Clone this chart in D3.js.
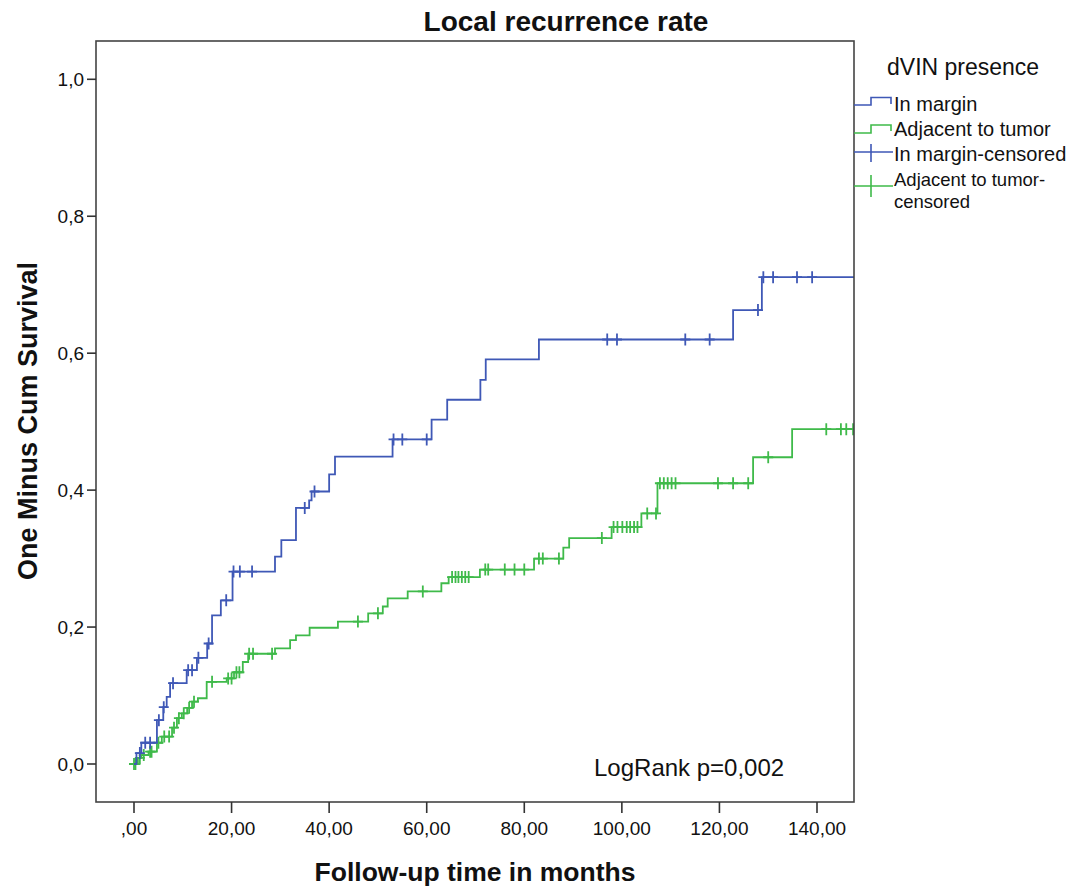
<!DOCTYPE html>
<html><head><meta charset="utf-8">
<script src="https://cdn.jsdelivr.net/npm/d3@7"></script>
<style>body{margin:0;background:#fff}svg{display:block}text{font-family:"Liberation Sans",Arial,sans-serif;fill:#111}</style>
</head><body>
<svg id="c" width="1079" height="887"></svg>
<script>
const xTicks = [0,20,40,60,80,100,120,140];
const xTickLabels = [",00","20,00","40,00","60,00","80,00","100,00","120,00","140,00"];
const yTicks = [0,0.2,0.4,0.6,0.8,1.0];
const yTickLabels = ["0,0","0,2","0,4","0,6","0,8","1,0"];

const seriesNames = ["In margin","Adjacent to tumor"];
const legendLabels = ["In margin","Adjacent to tumor","In margin-censored",["Adjacent to tumor-","censored"]];
const colors = ["#3f58b6","#3fba4a"];

const blueTimes  = [0,0.5,1.5,4.7,6.0,6.7,7.4,10.8,12.9,15.0,16.0,17.8,20.2,28.9,30.2,33.2,35.9,36.4,40.0,41.2,53.0,61.0,64.2,71.0,72.1,83.0,122.8,128.7];
const blueValues = [0,0.016,0.031,0.064,0.083,0.098,0.118,0.137,0.155,0.176,0.217,0.239,0.281,0.303,0.327,0.374,0.385,0.398,0.423,0.449,0.474,0.503,0.532,0.561,0.591,0.620,0.663,0.711];
const blueCensored = [1.2,2.3,3.3,5.1,6.1,8.0,11.1,11.9,13.2,15.3,18.9,20.4,21.7,24.2,35.0,37.0,53.2,55.0,60.0,97.0,99.0,113.0,118.0,127.9,129.0,131.0,135.9,139.0];

const greenTimes  = [0,0.8,1.5,3.0,4.7,5.7,7.8,8.8,9.8,10.9,11.9,13.1,14.9,19.0,20.5,22.3,23.4,28.9,32.0,33.2,36.0,41.8,48.0,51.0,52.0,56.1,63.0,64.5,70.9,82.0,88.0,89.2,97.9,104.0,107.3,126.9,134.9];
const greenValues = [0,0.009,0.013,0.018,0.031,0.040,0.053,0.067,0.074,0.082,0.091,0.096,0.120,0.125,0.134,0.149,0.161,0.169,0.181,0.188,0.199,0.208,0.220,0.230,0.242,0.252,0.264,0.273,0.284,0.300,0.316,0.330,0.346,0.366,0.410,0.448,0.489];
const greenCensored = [0,0.3,1.2,2.0,3.3,3.6,5.0,6.2,7.2,8.2,9.2,10.2,11.3,12.3,16.0,19.3,20.0,21.0,21.6,23.6,24.4,28.3,45.9,50.0,59.2,65.2,65.9,66.5,67.2,67.9,68.6,72.0,72.6,76.0,78.0,80.0,83.0,83.8,87.1,95.9,98.3,99.1,100.1,101.0,101.7,102.5,103.2,105.2,107.0,107.8,108.6,109.4,110.2,111.0,119.7,122.8,125.9,130.0,141.9,144.9,146.0,147.4];

const xMax = 147.6;

const svg = d3.select("#c");
const L = 96, R = 854, T = 41, B = 802;
const x = d3.scaleLinear().domain([0,140]).range([134,817]);
const y = d3.scaleLinear().domain([0,1]).range([764,79.3]);

// title
svg.append("text").attr("x",566).attr("y",31).attr("text-anchor","middle")
  .style("font-size","28px").style("font-weight","bold").text("Local recurrence rate");

// clip
svg.append("defs").append("clipPath").attr("id","clip").append("rect")
  .attr("x",L).attr("y",T).attr("width",R-L).attr("height",B-T);

const series = [
  {t:blueTimes, v:blueValues, c:blueCensored, color:colors[0]},
  {t:greenTimes, v:greenValues, c:greenCensored, color:colors[1]}
];
const g = svg.append("g").attr("clip-path","url(#clip)");
function valAt(s,t){ let v=s.v[0]; for(let i=0;i<s.t.length;i++){ if(s.t[i]<=t) v=s.v[i]; } return v; }
const line = d3.line().x(d=>x(d[0])).y(d=>y(d[1])).curve(d3.curveStepAfter);
[1,0].forEach(i=>{
  const s = series[i];
  const pts = s.t.map((t,k)=>[t,s.v[k]]);
  pts.push([xMax, s.v[s.v.length-1]]);
  g.append("path").attr("d",line(pts)).attr("fill","none").attr("stroke",s.color).attr("stroke-width",1.8);
  s.c.forEach(t=>{
    const cx = x(t), cy = y(valAt(s,t));
    g.append("path").attr("d",`M${cx-5},${cy}H${cx+5}M${cx},${cy-6}V${cy+6}`)
      .attr("stroke",s.color).attr("stroke-width",1.8).attr("fill","none");
  });
});

// box
svg.append("rect").attr("x",L).attr("y",T).attr("width",R-L).attr("height",B-T)
  .attr("fill","none").attr("stroke","#444").attr("stroke-width",1.6);

// y axis ticks
yTicks.forEach((v,i)=>{
  svg.append("line").attr("x1",87).attr("x2",L).attr("y1",y(v)).attr("y2",y(v)).attr("stroke","#333").attr("stroke-width",1.6);
  svg.append("text").attr("x",84).attr("y",y(v)+7).attr("text-anchor","end").style("font-size","19px").text(yTickLabels[i]);
});
// x axis ticks
xTicks.forEach((v,i)=>{
  svg.append("line").attr("x1",x(v)).attr("x2",x(v)).attr("y1",B).attr("y2",813).attr("stroke","#333").attr("stroke-width",1.6);
  svg.append("text").attr("x",x(v)).attr("y",835).attr("text-anchor","middle").style("font-size","19px").text(xTickLabels[i]);
});

// axis titles
svg.append("text").attr("transform","translate(37,421) rotate(-90)").attr("text-anchor","middle")
  .style("font-size","27px").style("font-weight","bold").text("One Minus Cum Survival");
svg.append("text").attr("x",475).attr("y",881).attr("text-anchor","middle")
  .style("font-size","26.5px").style("font-weight","bold").text("Follow-up time in months");

// logrank
svg.append("text").attr("x",594).attr("y",776).style("font-size","24px").text("LogRank p=0,002");

// legend
svg.append("text").attr("x",887).attr("y",75).style("font-size","23px").text("dVIN presence");
const lg = svg.append("g");
lg.append("path").attr("d","M854,105H871V97.5H891V104").attr("fill","none").attr("stroke",colors[0]).attr("stroke-width",1.6);
lg.append("path").attr("d","M854,133H871V125H891V131").attr("fill","none").attr("stroke",colors[1]).attr("stroke-width",1.6);
lg.append("path").attr("d","M854,152H893M871,144V162").attr("fill","none").attr("stroke",colors[0]).attr("stroke-width",1.6);
lg.append("path").attr("d","M854,186H893M871,175V197").attr("fill","none").attr("stroke",colors[1]).attr("stroke-width",1.6);
const lt = [[111,legendLabels[0]],[136,legendLabels[1]],[161,legendLabels[2]]];
lt.forEach(d=>lg.append("text").attr("x",894).attr("y",d[0]).style("font-size","20px").text(d[1]));
lg.append("text").attr("x",894).attr("y",186).style("font-size","18.5px").text(legendLabels[3][0]);
lg.append("text").attr("x",894).attr("y",208).style("font-size","18.5px").text(legendLabels[3][1]);
</script>
</body></html>
